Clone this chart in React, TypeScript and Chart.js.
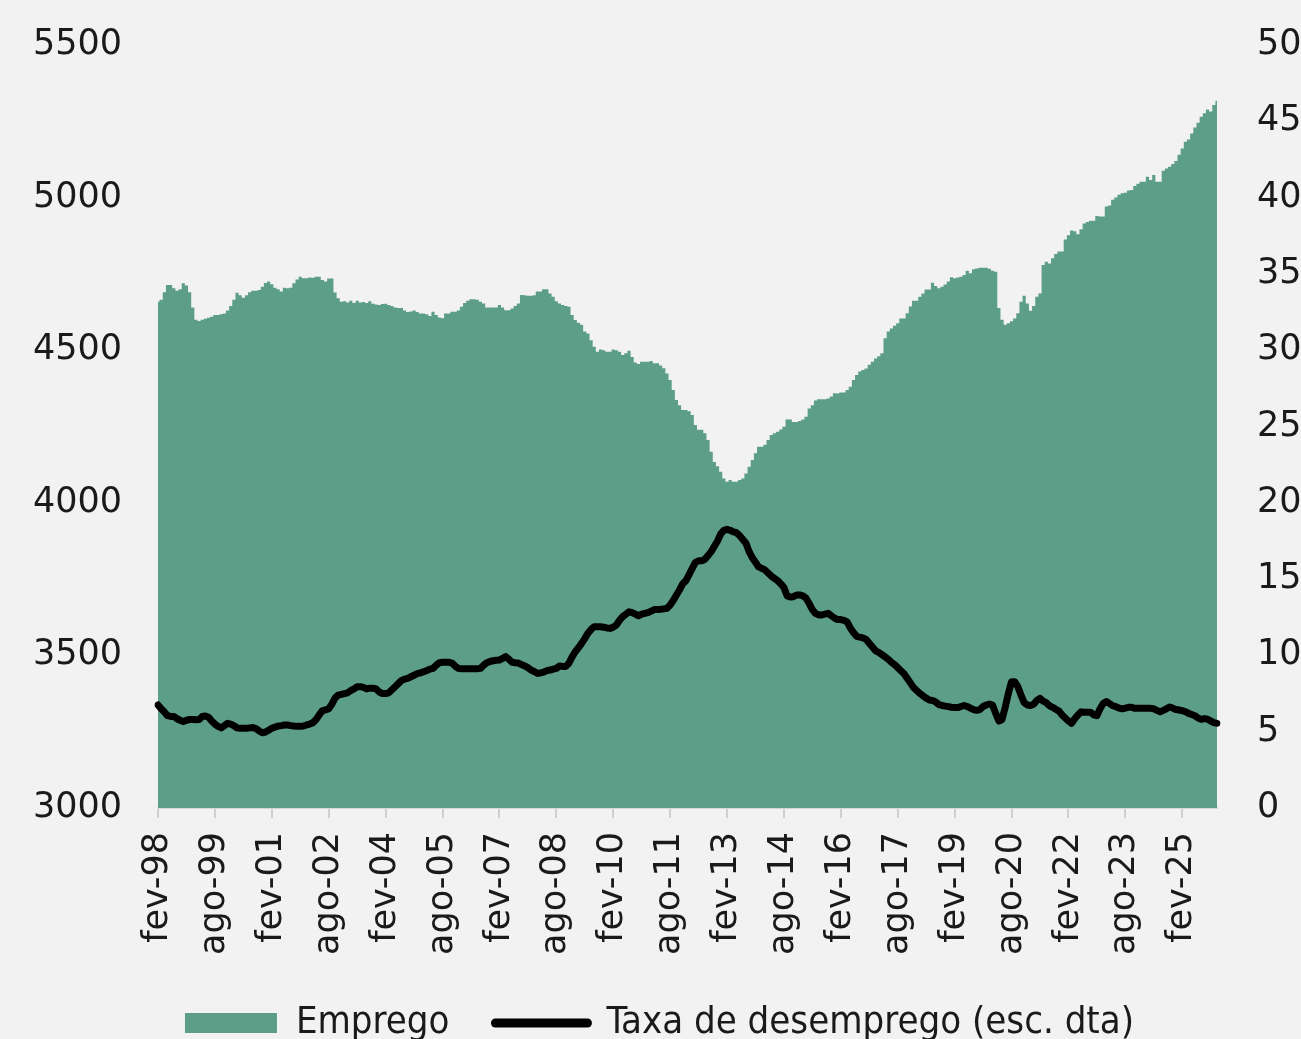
import React, { useEffect, useRef } from 'react';
import { Chart, registerables } from 'chart.js';

Chart.register(...registerables);

const BG = '#f2f2f2';
const AREA = '#5d9e88';
const TEXT = '#1a1a1a';

const MONTHS_PT = ['jan', 'fev', 'mar', 'abr', 'mai', 'jun', 'jul', 'ago', 'set', 'out', 'nov', 'dez'];
const START_YEAR = 1998;
const START_MONTH = 1; // fev
const TICK_EVERY = 18;

// Emprego (milhares) - left axis
const EMPREGO = [
  4659, 4665, 4690, 4714, 4714, 4703, 4695, 4700, 4719, 4712,
  4690, 4640, 4600, 4596, 4600, 4603, 4606, 4610, 4615, 4615,
  4618, 4620, 4630, 4645, 4665, 4688, 4680, 4672, 4680, 4690,
  4695, 4695, 4697, 4708, 4720, 4725, 4716, 4705, 4700, 4692,
  4705, 4703, 4705, 4719, 4732, 4741, 4736, 4736, 4738, 4737,
  4741, 4741, 4730, 4725, 4735, 4735, 4689, 4670, 4659, 4660,
  4656, 4662, 4655, 4662, 4656, 4658, 4655, 4660, 4652, 4650,
  4648, 4651, 4652, 4648, 4645, 4640, 4638, 4638, 4630, 4625,
  4627, 4630, 4625, 4620, 4620, 4618, 4612, 4626, 4615, 4607,
  4605, 4620, 4620, 4626, 4626, 4630, 4642, 4655, 4662, 4667,
  4667, 4665, 4659, 4653, 4640, 4640, 4640, 4640, 4648, 4640,
  4631, 4631, 4637, 4645, 4653, 4681, 4680, 4678, 4678, 4680,
  4692, 4692, 4700, 4700, 4686, 4675, 4660, 4653, 4648, 4645,
  4642, 4615, 4599, 4590, 4583, 4561, 4555, 4533, 4511, 4495,
  4502, 4500, 4495, 4495, 4502, 4500, 4495, 4484, 4490, 4498,
  4478, 4460, 4455, 4462, 4462, 4462, 4465, 4457, 4457, 4450,
  4441, 4424, 4402, 4370, 4337, 4320, 4304, 4304, 4300, 4288,
  4255, 4239, 4239, 4228, 4206, 4167, 4134, 4120, 4102, 4080,
  4069, 4075, 4069, 4069, 4075, 4080, 4096, 4118, 4140, 4162,
  4184, 4184, 4190, 4206, 4222, 4228, 4233, 4240, 4249, 4273,
  4273, 4265, 4265, 4268, 4273, 4282, 4309, 4320, 4335, 4339,
  4339, 4339, 4342, 4348, 4359, 4358, 4361, 4361, 4370, 4380,
  4402, 4419, 4430, 4435, 4440, 4452, 4462, 4473, 4480, 4490,
  4539, 4561, 4571, 4580, 4588, 4604, 4604, 4621, 4643, 4662,
  4662, 4675, 4686, 4699, 4699, 4721, 4710, 4703, 4708, 4715,
  4725, 4739, 4736, 4738, 4741, 4746, 4760, 4752, 4765, 4768,
  4770, 4770, 4770, 4767, 4760, 4757, 4638, 4600, 4583, 4588,
  4595, 4604, 4621, 4659, 4678, 4653, 4629, 4645, 4675, 4686,
  4779, 4790, 4784, 4801, 4815, 4823, 4823, 4863, 4877, 4892,
  4890, 4880, 4896, 4915, 4920, 4924, 4924, 4940, 4938, 4938,
  4971, 4974, 4993, 5000, 5009, 5014, 5016, 5023, 5025, 5038,
  5045, 5052, 5052, 5068, 5058, 5074, 5052, 5052, 5088, 5095,
  5101, 5110, 5120, 5140, 5161, 5183, 5190, 5210, 5230, 5245,
  5265, 5276, 5289, 5282, 5303, 5317,
];

// Taxa de desemprego (%) - right axis
const DESEMPREGO = [
  6.75, 6.5, 6.3, 6.05, 6.0, 6.0, 5.85, 5.75, 5.66, 5.75,
  5.8, 5.8, 5.78, 5.8, 6.0, 6.03, 5.95, 5.7, 5.5, 5.35,
  5.25, 5.4, 5.55, 5.5, 5.4, 5.25, 5.22, 5.22, 5.22, 5.25,
  5.27, 5.2, 5.05, 4.93, 4.98, 5.1, 5.22, 5.3, 5.37, 5.4,
  5.44, 5.44, 5.4, 5.37, 5.35, 5.35, 5.37, 5.44, 5.5, 5.59,
  5.8, 6.1, 6.38, 6.42, 6.5, 6.8, 7.2, 7.4, 7.45, 7.5,
  7.55, 7.7, 7.8, 7.95, 7.95, 7.9, 7.8, 7.85, 7.85, 7.8,
  7.6, 7.5, 7.5, 7.55, 7.75, 7.95, 8.15, 8.35, 8.45, 8.5,
  8.6, 8.7, 8.8, 8.85, 8.93, 9.0, 9.1, 9.15, 9.35, 9.52,
  9.55, 9.55, 9.55, 9.5, 9.3, 9.15, 9.12, 9.12, 9.12, 9.12,
  9.12, 9.13, 9.15, 9.35, 9.52, 9.6, 9.65, 9.68, 9.7, 9.8,
  9.92, 9.75, 9.55, 9.52, 9.5, 9.4, 9.31, 9.2, 9.04, 8.95,
  8.82, 8.85, 8.9, 9.0, 9.04, 9.1, 9.15, 9.31, 9.28, 9.28,
  9.5, 9.9, 10.24, 10.5, 10.79, 11.1, 11.45, 11.7, 11.88, 11.88,
  11.88, 11.85, 11.8, 11.77, 11.85, 11.99, 12.3, 12.54, 12.7, 12.86,
  12.8, 12.7, 12.6, 12.7, 12.75, 12.8, 12.9, 13.0, 13.0, 13.02,
  13.05, 13.08, 13.3, 13.6, 13.96, 14.3, 14.7, 14.9, 15.3, 15.7,
  16.1, 16.2, 16.2, 16.3, 16.55, 16.8, 17.15, 17.5, 17.95, 18.2,
  18.26, 18.2, 18.1, 18.04, 17.85, 17.6, 17.35, 16.8, 16.4, 16.1,
  15.8, 15.7, 15.6, 15.4, 15.2, 15.05, 14.9, 14.7, 14.45, 13.9,
  13.83, 13.85, 13.96, 13.96, 13.9, 13.75, 13.4, 13.0, 12.75, 12.65,
  12.65, 12.7, 12.76, 12.6, 12.45, 12.35, 12.35, 12.3, 12.2, 11.8,
  11.5, 11.25, 11.2, 11.15, 11.05, 10.8, 10.55, 10.3, 10.2, 10.05,
  9.9, 9.75, 9.55, 9.4, 9.2, 9.0, 8.8, 8.5, 8.2, 7.9,
  7.7, 7.51, 7.35, 7.2, 7.08, 7.05, 6.95, 6.78, 6.72, 6.68,
  6.64, 6.6, 6.58, 6.58, 6.65, 6.72, 6.65, 6.55, 6.45, 6.4,
  6.45, 6.65, 6.75, 6.81, 6.75, 6.2, 5.7, 5.8, 6.6, 7.5,
  8.28, 8.28, 7.95, 7.4, 6.9, 6.75, 6.72, 6.8, 7.05, 7.19,
  7.0, 6.9, 6.7, 6.6, 6.47, 6.35, 6.1, 5.9, 5.7, 5.55,
  5.85, 6.1, 6.3, 6.28, 6.28, 6.28, 6.1, 6.05, 6.5, 6.85,
  6.97, 6.85, 6.7, 6.64, 6.55, 6.5, 6.55, 6.6, 6.6, 6.53,
  6.53, 6.53, 6.53, 6.53, 6.53, 6.5, 6.4, 6.31, 6.4, 6.5,
  6.62, 6.55, 6.45, 6.42, 6.38, 6.31, 6.2, 6.13, 6.05, 5.9,
  5.81, 5.86, 5.82, 5.7, 5.6, 5.55,
];

// Monthly categories (fev-98 ...)
const CATEGORIES = EMPREGO.map((_, i) => {
  const m = START_MONTH + i;
  const yy = (START_YEAR + Math.floor(m / 12)) % 100;
  return `${MONTHS_PT[m % 12]}-${String(yy).padStart(2, '0')}`;
});

const LEGEND_LABELS = ['Emprego', 'Taxa de desemprego (esc. dta)'];

const LEGEND_PAD = 46;
const LEGEND_FONT = 38;
const X_AXIS_H = 150;

export default function App() {
  const ref = useRef<HTMLCanvasElement>(null);

  useEffect(() => {
    document.body.style.margin = '0';
    document.body.style.background = BG;
    const tickFont = { family: 'DejaVu Sans', size: 35 };
    const chart = new Chart(ref.current as HTMLCanvasElement, {
      type: 'line',
      data: {
        labels: CATEGORIES,
        datasets: [
          {
            label: LEGEND_LABELS[1],
            data: DESEMPREGO,
            yAxisID: 'y1',
            borderColor: '#000000',
            borderWidth: 7,
            borderJoinStyle: 'round',
            borderCapStyle: 'round',
            pointRadius: 0,
            fill: false,
            tension: 0,
            order: 0,
          },
          {
            label: LEGEND_LABELS[0],
            data: EMPREGO,
            yAxisID: 'y',
            borderColor: 'rgba(0,0,0,0)',
            borderWidth: 0,
            backgroundColor: AREA,
            fill: 'start',
            stepped: 'middle',
            pointRadius: 0,
            order: 1,
          },
        ],
      },
      options: {
        responsive: false,
        animation: false,
        devicePixelRatio: 1,
        layout: { padding: { top: 45, left: 18, right: 0, bottom: -13 } },
        plugins: {
          tooltip: { enabled: false },
          legend: {
            position: 'bottom',
            align: 'center',
            labels: {
              usePointStyle: true,
              pointStyleWidth: 92,
              boxHeight: 20,
              padding: LEGEND_PAD,
              color: TEXT,
              font: { family: "'DejaVu Sans Condensed', 'DejaVu Sans', sans-serif", size: LEGEND_FONT },
              generateLabels: () => [
                {
                  text: LEGEND_LABELS[0],
                  fillStyle: AREA,
                  strokeStyle: AREA,
                  lineWidth: 0,
                  pointStyle: 'rect',
                  hidden: false,
                  datasetIndex: 1,
                  fontColor: TEXT,
                },
                {
                  text: LEGEND_LABELS[1],
                  fillStyle: '#000000',
                  strokeStyle: '#000000',
                  lineWidth: 9,
                  lineCap: 'round',
                  pointStyle: 'line',
                  hidden: false,
                  datasetIndex: 0,
                  fontColor: TEXT,
                },
              ],
            },
          },
        },
        scales: {
          x: {
            type: 'category',
            offset: false,
            afterBuildTicks: (axis: any) => {
              axis.ticks = axis.ticks.filter((t: any) => t.value % TICK_EVERY === 0);
            },
            afterFit: (s: any) => {
              s.height = X_AXIS_H;
            },
            ticks: {
              autoSkip: false,
              maxRotation: 90,
              minRotation: 90,
              padding: 14,
              color: TEXT,
              font: tickFont,
            },
            grid: {
              display: true,
              drawOnChartArea: false,
              drawTicks: true,
              tickLength: 10,
              color: '#cfcfcf',
              lineWidth: 2,
            },
            border: { display: true, color: '#d6d6d6', width: 2 },
          },
          y: {
            position: 'left',
            min: 3000,
            max: 5500,
            afterFit: (s: any) => {
              s.width = 140;
            },
            ticks: {
              stepSize: 500,
              padding: 0,
              color: TEXT,
              font: tickFont,
              callback: (v: any) => String(v),
            },
            grid: {
              display: true,
              drawOnChartArea: false,
              drawTicks: true,
              tickLength: 36,
              color: 'rgba(0,0,0,0)',
            },
            border: { display: false },
          },
          y1: {
            position: 'right',
            min: 0,
            max: 50,
            afterFit: (s: any) => {
              s.width = 84;
            },
            ticks: {
              stepSize: 5,
              padding: 0,
              color: TEXT,
              font: tickFont,
              callback: (v: any) => String(v),
            },
            grid: {
              display: true,
              drawOnChartArea: false,
              drawTicks: true,
              tickLength: 40,
              color: 'rgba(0,0,0,0)',
            },
            border: { display: false },
          },
        },
      },
    } as any);
    return () => chart.destroy();
  }, []);

  return (
    <div style={{ width: 1301, height: 1039, background: BG, overflow: 'hidden' }}>
      <canvas ref={ref} width={1301} height={1039} style={{ display: 'block' }} />
    </div>
  );
}
